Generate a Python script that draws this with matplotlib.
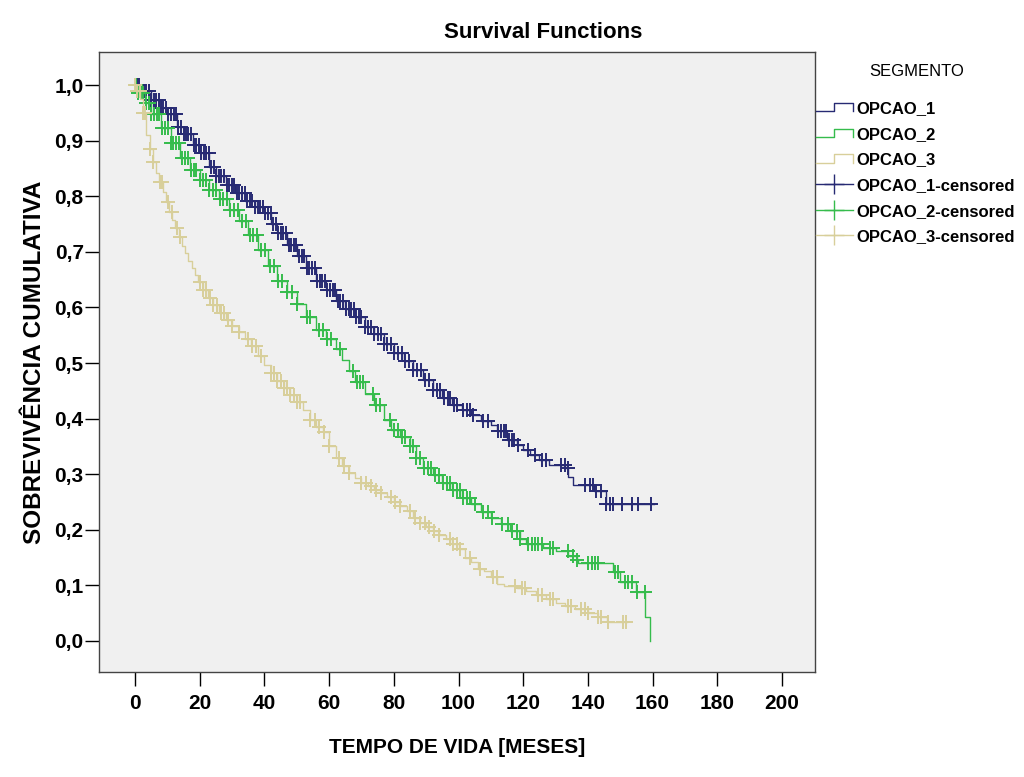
import numpy as np
import matplotlib as mpl
import matplotlib.pyplot as plt
from matplotlib.lines import Line2D
from matplotlib.legend_handler import HandlerBase

mpl.use('Agg')
plt.rcParams['font.family'] = ['Liberation Sans', 'DejaVu Sans']

# curvas de sobrevivencia (tempo em meses, sobrevivencia)
t1 = [0, 2, 5, 8, 10, 13, 15, 18, 20, 23, 25, 28, 31, 34, 37, 40, 42, 44, 47, 50,
      53, 56, 59, 62, 65, 68, 71, 74, 77, 80, 83, 86, 89, 92, 95, 98, 101, 104, 107,
      110, 112, 115, 118, 120, 122, 125, 128, 133, 134, 135.5, 142, 145.5, 160.5]
s1 = [1.0, 0.99, 0.973, 0.958, 0.948, 0.925, 0.912, 0.893, 0.878, 0.853, 0.837, 0.82,
      0.806, 0.792, 0.781, 0.77, 0.75, 0.733, 0.712, 0.693, 0.67, 0.648, 0.632, 0.612,
      0.597, 0.583, 0.565, 0.553, 0.535, 0.518, 0.504, 0.488, 0.47, 0.451, 0.437, 0.425,
      0.416, 0.407, 0.396, 0.388, 0.378, 0.362, 0.352, 0.343, 0.335, 0.325, 0.317, 0.311,
      0.295, 0.28, 0.27, 0.246, 0.246]

t2 = [0, 1, 3, 5, 8, 11, 14, 17, 20, 23, 26, 29, 32, 35, 38, 41, 44, 47, 50, 53, 56,
      59, 62, 64, 66, 68, 71, 74, 77, 79, 82, 85, 87, 89, 92, 95, 98, 101, 104, 107, 110,
      113, 116, 119, 121, 126, 130, 134, 136.5, 137, 147.8, 150, 154.9, 157.8, 159.2]
s2 = [1.0, 0.985, 0.968, 0.948, 0.922, 0.895, 0.869, 0.848, 0.829, 0.812, 0.795, 0.775,
      0.755, 0.73, 0.703, 0.675, 0.648, 0.628, 0.607, 0.583, 0.56, 0.543, 0.525, 0.505,
      0.485, 0.465, 0.445, 0.425, 0.398, 0.38, 0.366, 0.35, 0.33, 0.312, 0.298, 0.284,
      0.272, 0.258, 0.246, 0.232, 0.222, 0.211, 0.198, 0.183, 0.175, 0.168, 0.162, 0.153,
      0.146, 0.14, 0.124, 0.106, 0.088, 0.043, 0.0]

t3 = [0, 0.5, 1.5, 2.5, 3.5, 4.5, 5.5, 6.5, 7.5, 8.5, 9.5, 10.5, 11.5, 12.5, 13.5, 14.5,
      15.5, 16.5, 17.5, 18.5, 19.5, 21, 22.5, 24, 26, 28, 30, 32, 34, 36, 38, 40, 42, 44,
      46, 48, 50, 52, 54, 56, 58, 60, 62, 64, 66, 68, 70, 72, 74, 76, 78, 80, 82, 84, 86,
      88, 90, 92, 94, 96, 98, 100, 102, 104, 106, 108, 110, 112, 114, 118, 121, 124, 127,
      130, 133, 136, 140, 143, 146, 152]
s3 = [1.0, 0.99, 0.975, 0.95, 0.91, 0.885, 0.862, 0.842, 0.825, 0.808, 0.79, 0.772, 0.757,
      0.742, 0.727, 0.71, 0.697, 0.683, 0.67, 0.658, 0.646, 0.632, 0.617, 0.605, 0.59,
      0.577, 0.566, 0.555, 0.543, 0.53, 0.513, 0.497, 0.482, 0.468, 0.455, 0.442, 0.43,
      0.415, 0.398, 0.385, 0.375, 0.35, 0.33, 0.315, 0.303, 0.293, 0.285, 0.278, 0.272,
      0.266, 0.259, 0.25, 0.243, 0.233, 0.222, 0.213, 0.205, 0.197, 0.19, 0.183, 0.175,
      0.165, 0.15, 0.142, 0.13, 0.126, 0.115, 0.103, 0.098, 0.095, 0.09, 0.083, 0.075,
      0.068, 0.063, 0.058, 0.05, 0.043, 0.035, 0.035]

# tempos censurados
c1 = [0.5, 1.2, 2.0, 2.8, 3.5, 4.3, 5.0, 5.8, 6.5, 7.3, 8.0, 8.8, 9.6, 10.3, 11.1, 11.9,
      12.6, 13.4, 14.2, 15.0, 15.8, 16.5, 17.3, 18.1, 18.9, 19.7, 20.4, 21.2, 22.0, 22.8,
      23.6, 24.4, 25.1, 25.9, 26.7, 27.5, 28.3, 29.1, 29.9, 30.7, 31.5, 32.3, 33.1, 33.9,
      34.7, 35.5, 36.3, 37.1, 37.9, 38.7, 39.5, 40.3, 41.1, 41.9, 42.7, 43.5, 44.3, 45.1,
      45.9, 46.7, 47.5, 48.3, 49.1, 49.9, 50.7, 51.5, 52.3, 53.1, 53.9, 54.7, 55.5, 56.3,
      57.1, 57.9, 58.7, 59.5, 60.3, 61.1, 61.9, 62.7, 63.5, 64.3, 65.1, 66.0, 66.8, 67.6,
      68.4, 69.2, 70.0, 71.0, 72.0, 73.0, 74.0, 75.0, 76.0, 77.0, 78.0, 79.0, 80.0, 81.2,
      82.4, 83.6, 84.8, 86.0, 87.2, 88.4, 89.6, 90.8, 92.0, 93.2, 94.4, 95.6, 96.8, 97.5,
      98.5, 99.5, 101.5, 102.5, 103.5, 104.6, 107.6, 109, 112.3, 113.2, 114.0, 114.8,
      115.6, 116.4, 117.2, 118.5, 121.6, 123.6, 125.7, 127.2, 131.8, 132.8, 133.9, 139,
      140.6, 141.6, 142.6, 144.2, 145.7, 146.8, 147.8, 150.4, 153.5, 155.5, 159.5]
c2 = [0.3, 1.0, 1.8, 2.6, 3.4, 4.2, 5.0, 5.9, 6.7, 7.5, 8.4, 9.2, 10.1, 11.0, 11.8, 12.7,
      13.6, 14.5, 15.4, 16.3, 17.2, 18.1, 19.0, 20.0, 21.0, 22.0, 23.0, 24.0, 25.1, 26.2,
      27.3, 28.4, 29.5, 30.6, 31.8, 33.0, 34.2, 35.4, 36.6, 37.8, 39.0, 40.3, 41.6, 42.9,
      44.2, 45.5, 47.0, 48.5, 50.0, 53.1, 54.0, 57.0, 58.2, 59.4, 60.6, 63.4, 67.5, 68.6,
      69.6, 70.6, 73.6, 74.6, 75.7, 78.8, 80.0, 81.2, 82.4, 83.6, 85.0, 86.0, 87.0, 88.2,
      89.4, 90.5, 91.6, 92.8, 94.0, 95.2, 96.4, 97.4, 98.4, 99.4, 100.5, 101.5, 102.6,
      103.6, 105, 107.6, 109.1, 110.2, 113.3, 115.4, 116.4, 118, 119, 121.6, 122.6, 123.6,
      124.7, 125.7, 128.3, 129.3, 133.9, 135.5, 136.5, 140.1, 141.2, 142.2, 143.2, 148.4,
      149.2, 151.5, 152.5, 153.5, 155.3, 157.5]
c3 = [0.0, 0.6, 1.4, 2.6, 3.1, 4.6, 5.7, 7.7, 8.2, 10.3, 11.3, 12.9, 13.9, 20.1, 21.0,
      22.0, 23.1, 24.2, 25.3, 26.5, 27.6, 28.8, 30.0, 32.0, 35.0, 36.2, 37.5, 39.0, 42.0,
      43.0, 44.0, 45.0, 46.0, 47.0, 48.0, 49.0, 50.0, 51.0, 54.0, 55.5, 57.0, 58.5, 60.0,
      63.0, 64.5, 66.0, 70.0, 71.5, 73.0, 74.5, 76.0, 79.0, 80.5, 82.0, 85.0, 86.5, 88.0,
      89.5, 91.0, 92.5, 94.0, 97.4, 98.4, 99.4, 100.5, 103.6, 106.6, 110.8, 111.8, 117.5,
      119.5, 120.6, 124.7, 125.7, 128.3, 129.3, 133.9, 134.9, 138, 139, 140.1, 143.2,
      144.2, 146.3, 150.9, 151.9]

grupos = ['OPCAO_1', 'OPCAO_2', 'OPCAO_3']
cores = ['#272A73', '#35BC4C', '#D8CF9A']
xticks = [0, 20, 40, 60, 80, 100, 120, 140, 160, 180, 200]
yticks = [0.0, 0.1, 0.2, 0.3, 0.4, 0.5, 0.6, 0.7, 0.8, 0.9, 1.0]


class HandlerDegrau(HandlerBase):
    def create_artists(self, legend, orig_handle, xdescent, ydescent, width, height, fontsize, trans):
        x0, y0 = -xdescent, -ydescent
        xs = [x0, x0 + 0.5 * width, x0 + 0.5 * width, x0 + width, x0 + width]
        ys = [y0 + 0.15 * height, y0 + 0.15 * height, y0 + 0.85 * height, y0 + 0.85 * height, y0 + 0.15 * height]
        linha = Line2D(xs, ys, color=orig_handle.get_color(), lw=1.0)
        linha.set_transform(trans)
        return [linha]


def valorEm(t, s, tc):
    idx = np.searchsorted(t, tc, side='right') - 1
    return np.array(s)[idx]


fig = plt.figure(figsize=(10.24, 7.77), dpi=100)
ax = fig.add_axes([99 / 1024, 1 - 672 / 777, 716 / 1024, 620 / 777])
ax.set_facecolor('#F0F0F0')

linhas = []
cens = []
for t, s, c, cor in zip([t1, t2, t3], [s1, s2, s3], [c1, c2, c3], cores):
    l, = ax.step(t, s, where='post', color=cor, lw=1.0)
    linhas.append(l)
    ax.plot(c, valorEm(t, s, c), linestyle='none', marker='+', color=cor,
            markersize=10, markeredgewidth=1.4)
    cens.append(Line2D([], [], color=cor, lw=1.0, marker='+', markersize=14, markeredgewidth=1.0))

ax.set_xlim(-11.13, 210.2)
ax.set_ylim(-0.0558, 1.0594)
ax.set_xticks(xticks)
ax.set_yticks(yticks)
ax.set_yticklabels(['{:.1f}'.format(v).replace('.', ',') for v in yticks])
for lab in ax.get_xticklabels():
    lab.set_fontsize(15)
    lab.set_fontweight('bold')
for lab in ax.get_yticklabels():
    lab.set_fontsize(15)
    lab.set_fontweight('bold')
ax.tick_params(axis='x', length=10, width=1, pad=6)
ax.tick_params(axis='y', length=10, width=1, pad=1)
for sp in ax.spines.values():
    sp.set_color('#444444')
    sp.set_linewidth(1)

ax.set_xlabel('TEMPO DE VIDA [MESES]', fontsize=15, fontweight='bold', labelpad=18)
ax.set_ylabel('SOBREVIVÊNCIA CUMULATIVA', fontsize=17.5, fontweight='bold', labelpad=6)
fig.text(543 / 1024, 1 - 32 / 777, 'Survival Functions', ha='center', va='center',
         fontsize=16, fontweight='bold')
fig.text(917 / 1024, 1 - 72 / 777, 'SEGMENTO', ha='center', va='center', fontsize=12)

handles = linhas + cens
labels = grupos + [g + '-censored' for g in grupos]
hmap = {l: HandlerDegrau() for l in linhas}
leg = fig.legend(handles, labels, loc='upper left', bbox_to_anchor=(816 / 1024, 1 - 101 / 777),
                 frameon=False, prop={'weight': 'bold', 'size': 12},
                 handlelength=2.2, handletextpad=0.25, labelspacing=0.64,
                 borderpad=0, borderaxespad=0, numpoints=1, handler_map=hmap)

plt.savefig('out.png')
